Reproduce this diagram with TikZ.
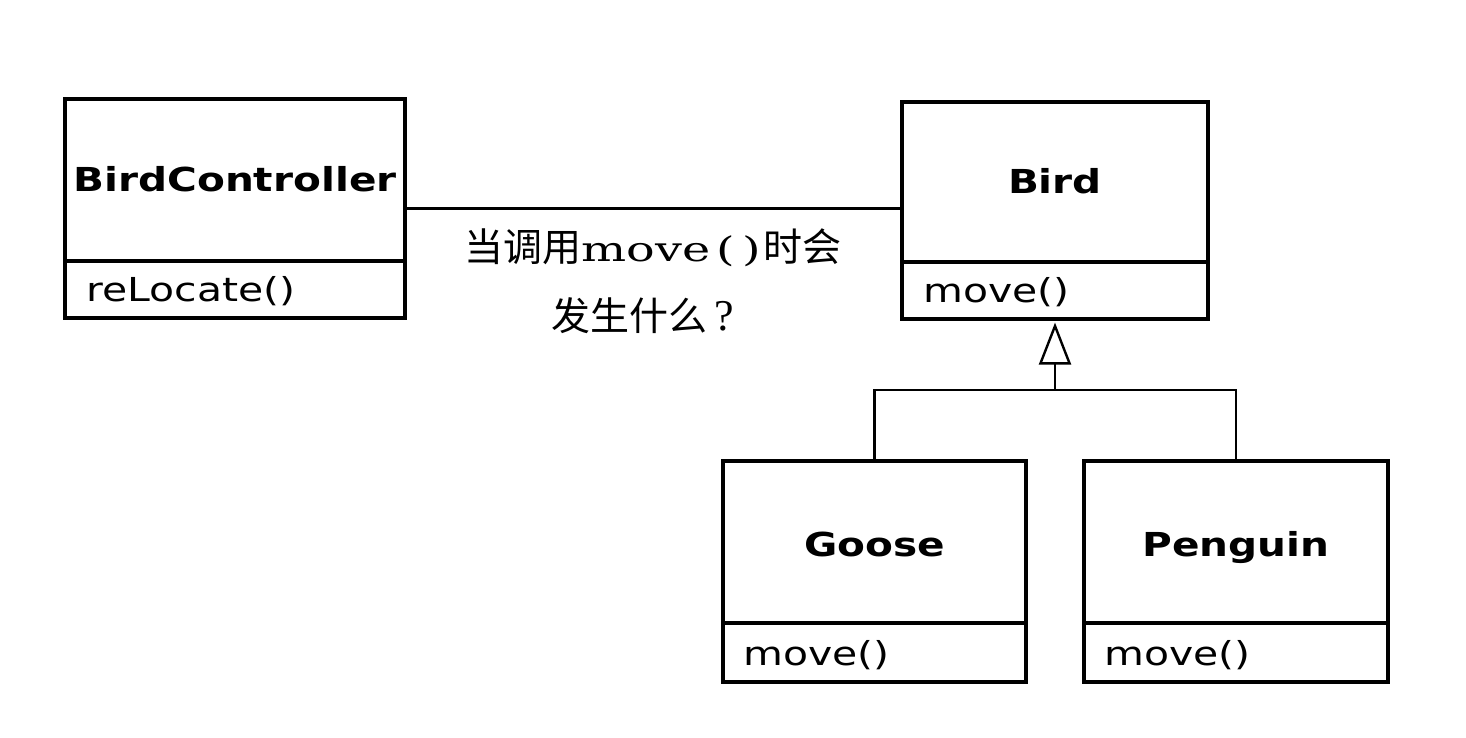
\documentclass[tikz,border=0pt]{standalone}
\usepackage{fontspec}
\usetikzlibrary{arrows.meta}
\newfontfamily\titlefont{DejaVu Sans}[FakeStretch=1.23]
\newfontfamily\memberfont{DejaVu Sans}[FakeStretch=1.24]
\newfontfamily\cjkfont{Noto Sans CJK SC}
\newfontfamily\lblserifwide{DejaVu Serif}[FakeStretch=1.4]
\newfontfamily\lblserif{Liberation Serif}
\begin{document}
\begin{tikzpicture}[x=1pt,y=-1pt,
  classbox/.style={draw, line width=3.2pt, inner sep=0pt},
  divider/.style={line width=3.2pt},
  classtitle/.style={inner sep=0pt, anchor=base, font=\titlefont\bfseries\fontsize{33}{36}\selectfont},
  member/.style={inner sep=0pt, anchor=base west, font=\memberfont\fontsize{33}{36}\selectfont},
  conn/.style={line width=2.4pt},
  lbl/.style={inner sep=0pt, font=\cjkfont\fontsize{39}{42}\selectfont}]
\fill[white] (0,0) rectangle (1466,737);
\useasboundingbox (0,0) rectangle (1466,737);

% class boxes
\node[classbox, minimum width=340pt, minimum height=219pt] (bc) at (235,208.5) {};
\node[classbox, minimum width=306pt, minimum height=217pt] (bird) at (1055,210.5) {};
\node[classbox, minimum width=303pt, minimum height=221pt] (goose) at (874.5,571.5) {};
\node[classbox, minimum width=304pt, minimum height=221pt] (penguin) at (1236,571.5) {};

% dividers
\draw[divider] (bc.west |- 0,261) -- (bc.east |- 0,261);
\draw[divider] (bird.west |- 0,262) -- (bird.east |- 0,262);
\draw[divider] (goose.west |- 0,623) -- (goose.east |- 0,623);
\draw[divider] (penguin.west |- 0,623) -- (penguin.east |- 0,623);

% titles
\node[classtitle] (bct) at (bc.north |- 0,191) {BirdController};
\node[classtitle] (birdt) at (bird.north |- 0,193) {Bird};
\node[classtitle] (gooset) at (goose.north |- 0,556) {Goose};
\node[classtitle] (penguint) at (penguin.north |- 0,556) {Penguin};

% members
\node[member] (bcm) at ([xshift=23pt]bc.west |- 0,301) {reLocate()};
\node[member] (birdm) at ([xshift=23pt]bird.west |- 0,302) {move()};
\node[member] (goosem) at ([xshift=22pt]goose.west |- 0,665) {move()};
\node[member] (penguinm) at ([xshift=22pt]penguin.west |- 0,665) {move()};

% association
\draw[conn] (bc.east) -- (bc.east -| bird.west);
\node[lbl] (l1) at (653,248) {当调用{\lblserifwide\fontsize{34}{36}\selectfont move\hspace{6pt}{\mdseries(}\hspace{8pt}{\mdseries)}\hspace{2pt}}时会};
\node[lbl] (l2) at (643,316) {发生什么{\lblserif\fontsize{44}{46}\selectfont\,?}};

% inheritance
\coordinate (j) at (1055,390);
\draw[conn, shorten >=2pt, -{Triangle[open, width=32pt, length=42pt, line width=2.4pt]}] (j) -- (bird.south);
\draw[conn] (goose.north) |- (j) -| (penguin.north);
\end{tikzpicture}
\end{document}
